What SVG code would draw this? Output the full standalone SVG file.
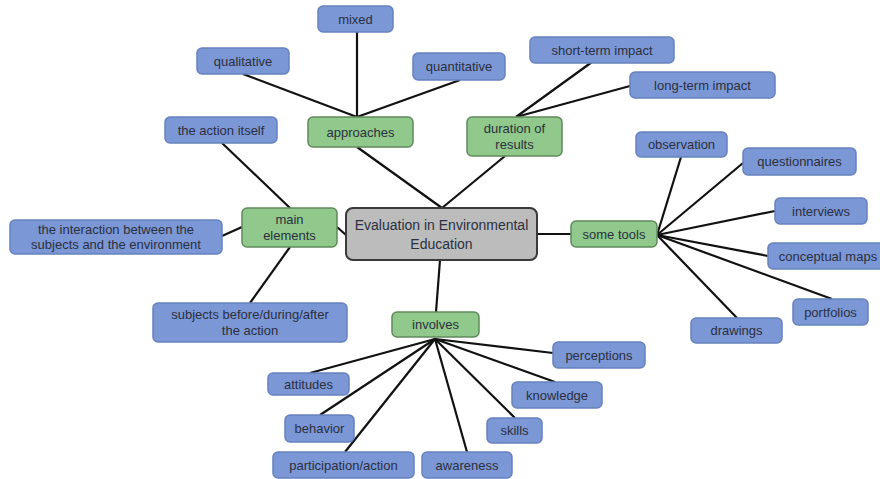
<svg xmlns="http://www.w3.org/2000/svg" width="880" height="479" viewBox="0 0 880 479">
<style>
text{font-family:"Liberation Sans",Arial,sans-serif;font-size:13px;fill:#2b3040;text-anchor:middle}
.b{fill:#7b97d6;stroke:#6782bd;stroke-width:1.5}
.g{fill:#90c98b;stroke:#5f8a5b;stroke-width:1.5}
.c{fill:#bcbcbc;stroke:#3a3a3a;stroke-width:2}
.ct{font-size:14px}
#connectors line{stroke:#111;stroke-width:2.2}
</style>
<rect width="880" height="479" fill="#fff"/>
<g id="connectors">
<line x1="243" y1="74" x2="357" y2="117"/>
<line x1="357" y1="32" x2="357" y2="117"/>
<line x1="460" y1="80" x2="357" y2="117"/>
<line x1="357" y1="147" x2="442" y2="208"/>
<line x1="516" y1="117" x2="592" y2="62"/>
<line x1="516" y1="117" x2="630" y2="86"/>
<line x1="505" y1="156" x2="442" y2="208"/>
<line x1="222" y1="143" x2="290" y2="208"/>
<line x1="222" y1="236" x2="242" y2="227"/>
<line x1="337" y1="227" x2="346" y2="235"/>
<line x1="290" y1="247" x2="250" y2="303"/>
<line x1="537" y1="234" x2="571" y2="234"/>
<line x1="657" y1="235" x2="681" y2="157"/>
<line x1="657" y1="235" x2="743" y2="163"/>
<line x1="657" y1="235" x2="775" y2="211"/>
<line x1="657" y1="235" x2="768" y2="256"/>
<line x1="657" y1="235" x2="832" y2="299"/>
<line x1="657" y1="235" x2="737" y2="318"/>
<line x1="440" y1="260" x2="436" y2="312"/>
<line x1="435" y1="339" x2="553" y2="353"/>
<line x1="435" y1="339" x2="555" y2="382"/>
<line x1="435" y1="339" x2="515" y2="418"/>
<line x1="435" y1="339" x2="467" y2="452"/>
<line x1="435" y1="339" x2="345" y2="452"/>
<line x1="435" y1="339" x2="320" y2="415"/>
<line x1="435" y1="339" x2="310" y2="373"/>
</g>
<g id="center"><rect class="c" x="346" y="208" width="191" height="52" rx="7"/><text class="ct" x="441.5" y="230">Evaluation in Environmental</text><text class="ct" x="441.5" y="249">Education</text></g>
<g id="approaches"><rect class="g" x="308" y="117" width="105" height="30" rx="5"/><text x="360.5" y="136.5">approaches</text></g>
<g id="duration"><rect class="g" x="467" y="117" width="95" height="39" rx="5"/><text x="514.5" y="133">duration of</text><text x="514.5" y="149">results</text></g>
<g id="main-elements"><rect class="g" x="242" y="208" width="95" height="39" rx="5"/><text x="289.5" y="224">main</text><text x="289.5" y="240">elements</text></g>
<g id="some-tools"><rect class="g" x="571" y="221" width="86" height="26" rx="5"/><text x="614" y="238.5">some tools</text></g>
<g id="involves"><rect class="g" x="392" y="312" width="87" height="25" rx="5"/><text x="435.5" y="329">involves</text></g>
<g id="mixed"><rect class="b" x="318" y="6" width="75" height="26" rx="5"/><text x="355.5" y="23.5">mixed</text></g>
<g id="qualitative"><rect class="b" x="197" y="48" width="92" height="26" rx="5"/><text x="243" y="65.5">qualitative</text></g>
<g id="quantitative"><rect class="b" x="413" y="53" width="92" height="27" rx="5"/><text x="459" y="71">quantitative</text></g>
<g id="short-term"><rect class="b" x="530" y="37" width="144" height="26" rx="5"/><text x="602" y="54.5">short-term impact</text></g>
<g id="long-term"><rect class="b" x="630" y="72" width="145" height="26" rx="5"/><text x="702.5" y="89.5">long-term impact</text></g>
<g id="action-itself"><rect class="b" x="165" y="117" width="112" height="26" rx="5"/><text x="221" y="134.5">the action itself</text></g>
<g id="interaction"><rect class="b" x="10" y="220" width="212" height="34" rx="5"/><text x="116" y="234">the interaction between the</text><text x="116" y="249">subjects and the environment</text></g>
<g id="subjects"><rect class="b" x="153" y="303" width="194" height="39" rx="5"/><text x="250" y="319">subjects before/during/after</text><text x="250" y="335">the action</text></g>
<g id="observation"><rect class="b" x="636" y="132" width="91" height="25" rx="5"/><text x="681.5" y="149">observation</text></g>
<g id="questionnaires"><rect class="b" x="743" y="148" width="113" height="27" rx="5"/><text x="799.5" y="166">questionnaires</text></g>
<g id="interviews"><rect class="b" x="775" y="198" width="92" height="26" rx="5"/><text x="821" y="215.5">interviews</text></g>
<g id="conceptual-maps"><rect class="b" x="768" y="243" width="120" height="26" rx="5"/><text x="828" y="260.5">conceptual maps</text></g>
<g id="portfolios"><rect class="b" x="793" y="299" width="75" height="26" rx="5"/><text x="830.5" y="316.5">portfolios</text></g>
<g id="drawings"><rect class="b" x="691" y="318" width="91" height="25" rx="5"/><text x="736.5" y="335">drawings</text></g>
<g id="perceptions"><rect class="b" x="553" y="342" width="92" height="26" rx="5"/><text x="599" y="359.5">perceptions</text></g>
<g id="knowledge"><rect class="b" x="512" y="382" width="90" height="26" rx="5"/><text x="557" y="399.5">knowledge</text></g>
<g id="skills"><rect class="b" x="487" y="418" width="55" height="25" rx="5"/><text x="514.5" y="435">skills</text></g>
<g id="awareness"><rect class="b" x="422" y="452" width="90" height="26" rx="5"/><text x="467" y="469.5">awareness</text></g>
<g id="participation"><rect class="b" x="273" y="452" width="141" height="26" rx="5"/><text x="343.5" y="469.5">participation/action</text></g>
<g id="behavior"><rect class="b" x="285" y="415" width="69" height="27" rx="5"/><text x="319.5" y="433">behavior</text></g>
<g id="attitudes"><rect class="b" x="268" y="373" width="81" height="22" rx="5"/><text x="308.5" y="388.5">attitudes</text></g>
</svg>
